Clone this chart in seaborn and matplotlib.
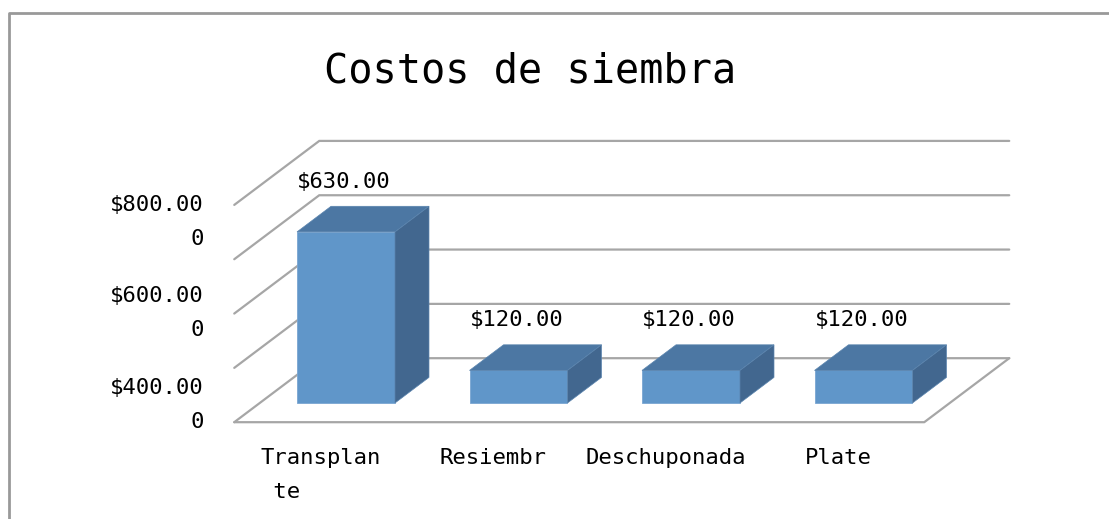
import matplotlib
matplotlib.use('Agg')
import matplotlib.pyplot as plt
from matplotlib.patches import Polygon
import seaborn as sns
import pandas as pd

# data
categorias = ['Transplante', 'Resiembra', 'Deschuponada', 'Plate']
etiquetas_x = ['Transplan\n te', 'Resiembr', 'Deschuponada', 'Plate']
costos = [630.0, 120.0, 120.0, 120.0]
niveles = [0, 200, 400, 600, 800]
etiquetas_y = ['$400.00\n0', '$600.00\n0', '$800.00\n0']

df = pd.DataFrame({'categoria': categorias, 'costo': costos})

sns.set_theme(style='white')
plt.rcParams['font.family'] = ['DejaVu Sans Mono', 'DejaVu Sans']
plt.rcParams['text.color'] = 'black'

W, H, DPI = 1109, 519, 100
fig = plt.figure(figsize=(W / DPI, H / DPI), dpi=DPI)
ax = fig.add_axes([0, 0, 1, 1])

# fake 3d: one slot = 172.5 px, 1 $ = 0.2716 px, bars sit 30% deep into the floor
px_cat, px_val = 172.5, 0.2716
x0_px, y0_px = 346, 403
ax.set_xlim(-x0_px / px_cat, (W - x0_px) / px_cat)
ax.set_ylim((y0_px - H) / px_val, y0_px / px_val)
ax.axis('off')

dx, dy = 85 / px_cat, 64 / px_val      # full floor depth in data units
f_front, f_back = -0.3, 0.7
n = len(categorias)
xl, xr = -0.5, n - 0.5
grid_col = '#a6a6a6'

# walls / grid
for g in niveles:
    ax.plot([xl + f_front * dx, xl + f_back * dx, xr + f_back * dx],
            [g + f_front * dy, g + f_back * dy, g + f_back * dy],
            color=grid_col, lw=1.6, zorder=1, solid_joinstyle='miter')
ax.plot([xl + f_front * dx, xr + f_front * dx, xr + f_back * dx],
        [f_front * dy, f_front * dy, f_back * dy],
        color=grid_col, lw=1.6, zorder=1)

# front faces through seaborn
ancho = 0.568
sns.barplot(data=df, x='categoria', y='costo', color='#6096c9', saturation=1,
            width=ancho, edgecolor='#7aa6d2', linewidth=0.6, ax=ax, zorder=3)
ax.set_xlim(-x0_px / px_cat, (W - x0_px) / px_cat)
ax.axis('off')

# top and side faces
bd = 0.4
for i, v in enumerate(costos):
    a, b = i - ancho / 2, i + ancho / 2
    top = [(a, v), (b, v), (b + bd * dx, v + bd * dy), (a + bd * dx, v + bd * dy)]
    side = [(b, 0), (b + bd * dx, bd * dy), (b + bd * dx, v + bd * dy), (b, v)]
    ax.add_patch(Polygon(top, closed=True, fc='#4c77a3', ec='#5a84ae', lw=0.5, zorder=3))
    ax.add_patch(Polygon(side, closed=True, fc='#42678f', ec='#5a84ae', lw=0.5, zorder=3))
    ax.annotate(f'${v:.2f}', (i, v), xytext=(-2, 50), textcoords='offset pixels',
                ha='center', va='center', fontsize=16, color='black', zorder=5)

# category labels on the front edge of the floor
for i, lab in enumerate(etiquetas_x):
    ax.annotate(lab, (i + f_front * dx, f_front * dy), xytext=(0, -26),
                textcoords='offset pixels', ha='center', va='top',
                multialignment='left', fontsize=16, color='black', linespacing=1.85)

# value axis labels (as shown in the original)
for lab, ypx in zip(etiquetas_y, [405, 313, 222]):
    fig.text(204 / W, 1 - ypx / H, lab, ha='right', va='center', color='black',
             multialignment='right', fontsize=16, linespacing=1.85)

fig.text(530 / W, 1 - 72 / H, 'Costos de siembra', ha='center', va='center',
         fontsize=29, color='black')

# chart border
fig.add_artist(plt.Line2D([9 / W, 9 / W, 1], [0, 1 - 13 / H, 1 - 13 / H],
                          transform=fig.transFigure, color='#999999', lw=2))

fig.savefig('out.png', dpi=DPI)
